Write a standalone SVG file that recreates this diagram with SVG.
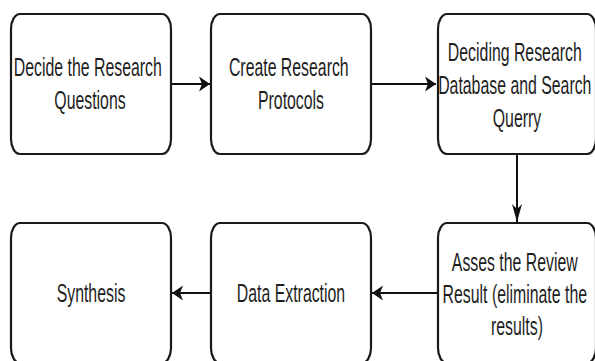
<svg xmlns="http://www.w3.org/2000/svg" width="595" height="361" viewBox="0 0 595 361">
  <style>
    .box { fill: #ffffff; stroke: #1a1a1a; stroke-width: 2.2; }
    .lbl { font-family: "Liberation Sans", Arial, sans-serif; font-size: 26px; fill: #1e1e1e; text-anchor: middle; }
    .edge { fill: none; stroke: #111111; stroke-width: 2; }
  </style>
  <defs>
    <!-- arrowheads: horizontal and vertical runs use differently proportioned heads -->
    <marker id="arrowH" markerUnits="userSpaceOnUse" markerWidth="12" markerHeight="16" refX="11" refY="7.5" orient="auto" overflow="visible">
      <path d="M0,0 L11,7.5 L0,15 L3,7.5 Z" fill="#111111"/>
    </marker>
    <marker id="arrowV" markerUnits="userSpaceOnUse" markerWidth="19" markerHeight="11" refX="18" refY="5" orient="auto" overflow="visible">
      <path d="M0,0 L18,5 L0,10 L5,5 Z" fill="#111111"/>
    </marker>
  </defs>
  <rect width="595" height="361" fill="#ffffff"/>

  <g id="edges">
    <path class="edge" d="M171,84 L210,84" marker-end="url(#arrowH)"/>
    <path class="edge" d="M371,84 L436,84" marker-end="url(#arrowH)"/>
    <path class="edge" d="M517,154 L517,222" marker-end="url(#arrowV)"/>
    <path class="edge" d="M438,293 L372,293" marker-end="url(#arrowH)"/>
    <path class="edge" d="M211,293 L172,293" marker-end="url(#arrowH)"/>
  </g>

  <g id="research-questions">
    <rect class="box" x="11" y="14" width="160" height="140" rx="9" ry="15"/>
    <text class="lbl" transform="translate(90 0) scale(0.61 1)">
      <tspan x="0" y="76">Decide the Research</tspan>
      <tspan x="0" y="109">Questions</tspan>
    </text>
  </g>

  <g id="research-protocols">
    <rect class="box" x="211" y="14" width="160" height="140" rx="9" ry="15"/>
    <text class="lbl" transform="translate(291 0) scale(0.61 1)">
      <tspan x="0" y="76">Create Research</tspan>
      <tspan x="0" y="109">Protocols</tspan>
    </text>
  </g>

  <g id="database-query">
    <rect class="box" x="438" y="14" width="158" height="140" rx="9" ry="15"/>
    <text class="lbl" transform="translate(517 0) scale(0.61 1)">
      <tspan x="0" y="61">Deciding Research</tspan>
      <tspan x="0" y="94">Database and Search</tspan>
      <tspan x="0" y="127">Querry</tspan>
    </text>
  </g>

  <g id="assess-results">
    <rect class="box" x="438" y="223" width="158" height="140" rx="9" ry="15"/>
    <text class="lbl" transform="translate(517 0) scale(0.61 1)">
      <tspan x="0" y="271">Asses the Review</tspan>
      <tspan x="0" y="303">Result (eliminate the</tspan>
      <tspan x="0" y="335">results)</tspan>
    </text>
  </g>

  <g id="data-extraction">
    <rect class="box" x="211" y="223" width="160" height="140" rx="9" ry="15"/>
    <text class="lbl" transform="translate(291 0) scale(0.61 1)">
      <tspan x="0" y="302">Data Extraction</tspan>
    </text>
  </g>

  <g id="synthesis">
    <rect class="box" x="11" y="223" width="160" height="140" rx="9" ry="15"/>
    <text class="lbl" transform="translate(91 0) scale(0.61 1)">
      <tspan x="0" y="302">Synthesis</tspan>
    </text>
  </g>
</svg>
